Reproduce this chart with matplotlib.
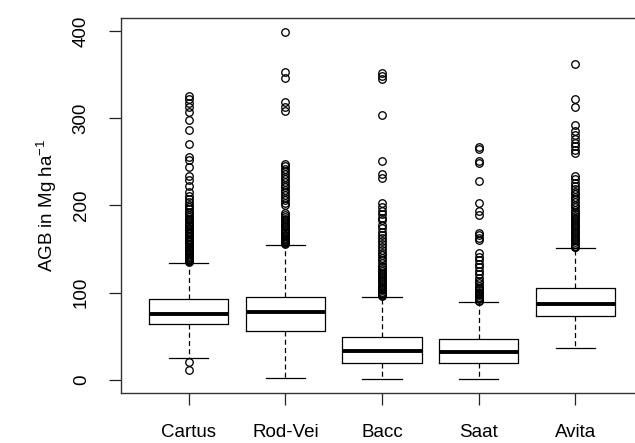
import matplotlib
matplotlib.use("Agg")
import matplotlib.pyplot as plt

plt.rcParams["font.family"] = ["Liberation Sans", "DejaVu Sans"]
plt.rcParams["mathtext.fontset"] = "custom"
plt.rcParams["mathtext.rm"] = "Liberation Sans"
plt.rcParams["mathtext.it"] = "Liberation Sans"

# AGB summary per site (Tukey hinges, whiskers, outliers)
sites = ["Cartus", "Rod-Vei", "Bacc", "Saat", "Avita"]
q1 = [64.2, 56.5, 19.1, 19.1, 73.7]
median = [75.3, 78.3, 33.2, 32.1, 86.8]
q3 = [92.5, 95.5, 49.6, 46.6, 105.0]
whisker_low = [24.9, 1.9, 1.5, 1.5, 36.3]
whisker_high = [133.7, 155.0, 94.8, 89.0, 151.0]

outliers_cartus = [326, 322, 318, 313, 307, 298, 287, 271, 256, 252, 244, 234,
                   229, 222, 216, 211, 207, 204, 201, 198, 196, 193, 191, 189,
                   187, 185, 183, 181, 179, 177, 176, 174, 173, 171, 170, 168,
                   167, 165, 164, 162, 161, 159, 158, 156, 155, 153, 152, 150,
                   149, 148, 146, 145, 144, 142, 141, 140, 139, 138, 137, 136,
                   135, 21, 12]
outliers_rodvei = [399, 353, 346, 319, 313, 308, 248, 245, 242, 239, 236, 233,
                   230, 227, 224, 221, 218, 215, 212, 209, 206, 203, 200, 191,
                   189, 187, 185, 183, 181, 179, 177, 175, 173, 171, 169, 168,
                   166, 165, 163, 162, 160, 159, 158, 157, 156]
outliers_bacc = [352, 348, 345, 304, 251, 236, 232, 203, 198, 194, 190, 186,
                 183, 178, 174, 170, 166, 163, 159, 156, 152, 149, 146, 143,
                 140, 137, 134, 131, 129, 127, 125, 123, 121, 119, 117, 115,
                 113, 111, 109, 107, 105, 104, 103, 101, 100, 99, 97, 96]
outliers_saat = [267, 265, 251, 249, 228, 203, 194, 189, 169, 166, 163, 161,
                 145, 141, 137, 133, 129, 125, 121, 117, 114, 111, 108, 106,
                 105, 103, 101, 100, 99, 97, 95, 94, 93, 91, 90]
outliers_avita = [362, 322, 313, 292, 285, 281, 276, 272, 268, 264, 260, 234,
                  230, 226, 222, 219, 216, 213, 210, 207, 204, 201, 198, 195,
                  192, 190, 188, 186, 184, 182, 180, 178, 176, 174, 172, 170,
                  168, 166, 164, 162, 160, 158, 156, 154, 153, 152]
outliers = [outliers_cartus, outliers_rodvei, outliers_bacc, outliers_saat,
            outliers_avita]

y_ticks = [0, 100, 200, 300, 400]

stats = []
for i, name in enumerate(sites):
    stats.append({
        "label": name,
        "q1": q1[i],
        "med": median[i],
        "q3": q3[i],
        "whislo": whisker_low[i],
        "whishi": whisker_high[i],
        "fliers": outliers[i],
    })

fig = plt.figure(figsize=(6.35, 4.43), dpi=100)
ax = fig.add_axes([121 / 635, 50 / 443, 522 / 635, 375 / 443])

positions = list(range(1, len(sites) + 1))
ax.bxp(
    stats,
    positions=positions,
    widths=0.82,
    boxprops=dict(color="black", linewidth=0.9),
    medianprops=dict(color="black", linewidth=2.8, solid_capstyle="butt"),
    whiskerprops=dict(color="black", linewidth=0.9, linestyle=(0, (4, 2.6))),
    capprops=dict(color="black", linewidth=0.9),
    flierprops=dict(marker="o", markerfacecolor="none", markeredgecolor="black",
                    markersize=5.4, markeredgewidth=0.95),
    capwidths=0.41,
)

ax.set_xlim(0.3, 5.7)
ax.set_ylim(-14.9, 414.9)
ax.set_xticks(positions)
ax.set_xticklabels(sites)
ax.set_yticks(y_ticks)
ax.set_yticklabels([str(t) for t in y_ticks], rotation=90, va="center")

ax.tick_params(axis="both", direction="out", length=8.5, width=0.9,
               labelsize=13.5, color="#222222")
ax.tick_params(axis="x", pad=14)
ax.tick_params(axis="y", pad=14)
for spine in ax.spines.values():
    spine.set_linewidth(1.0)
    spine.set_color("#333333")

ax.set_ylabel(r"AGB in Mg ha$^{-1}$", fontsize=13.5, labelpad=10)

fig.savefig("out.png", dpi=100)
